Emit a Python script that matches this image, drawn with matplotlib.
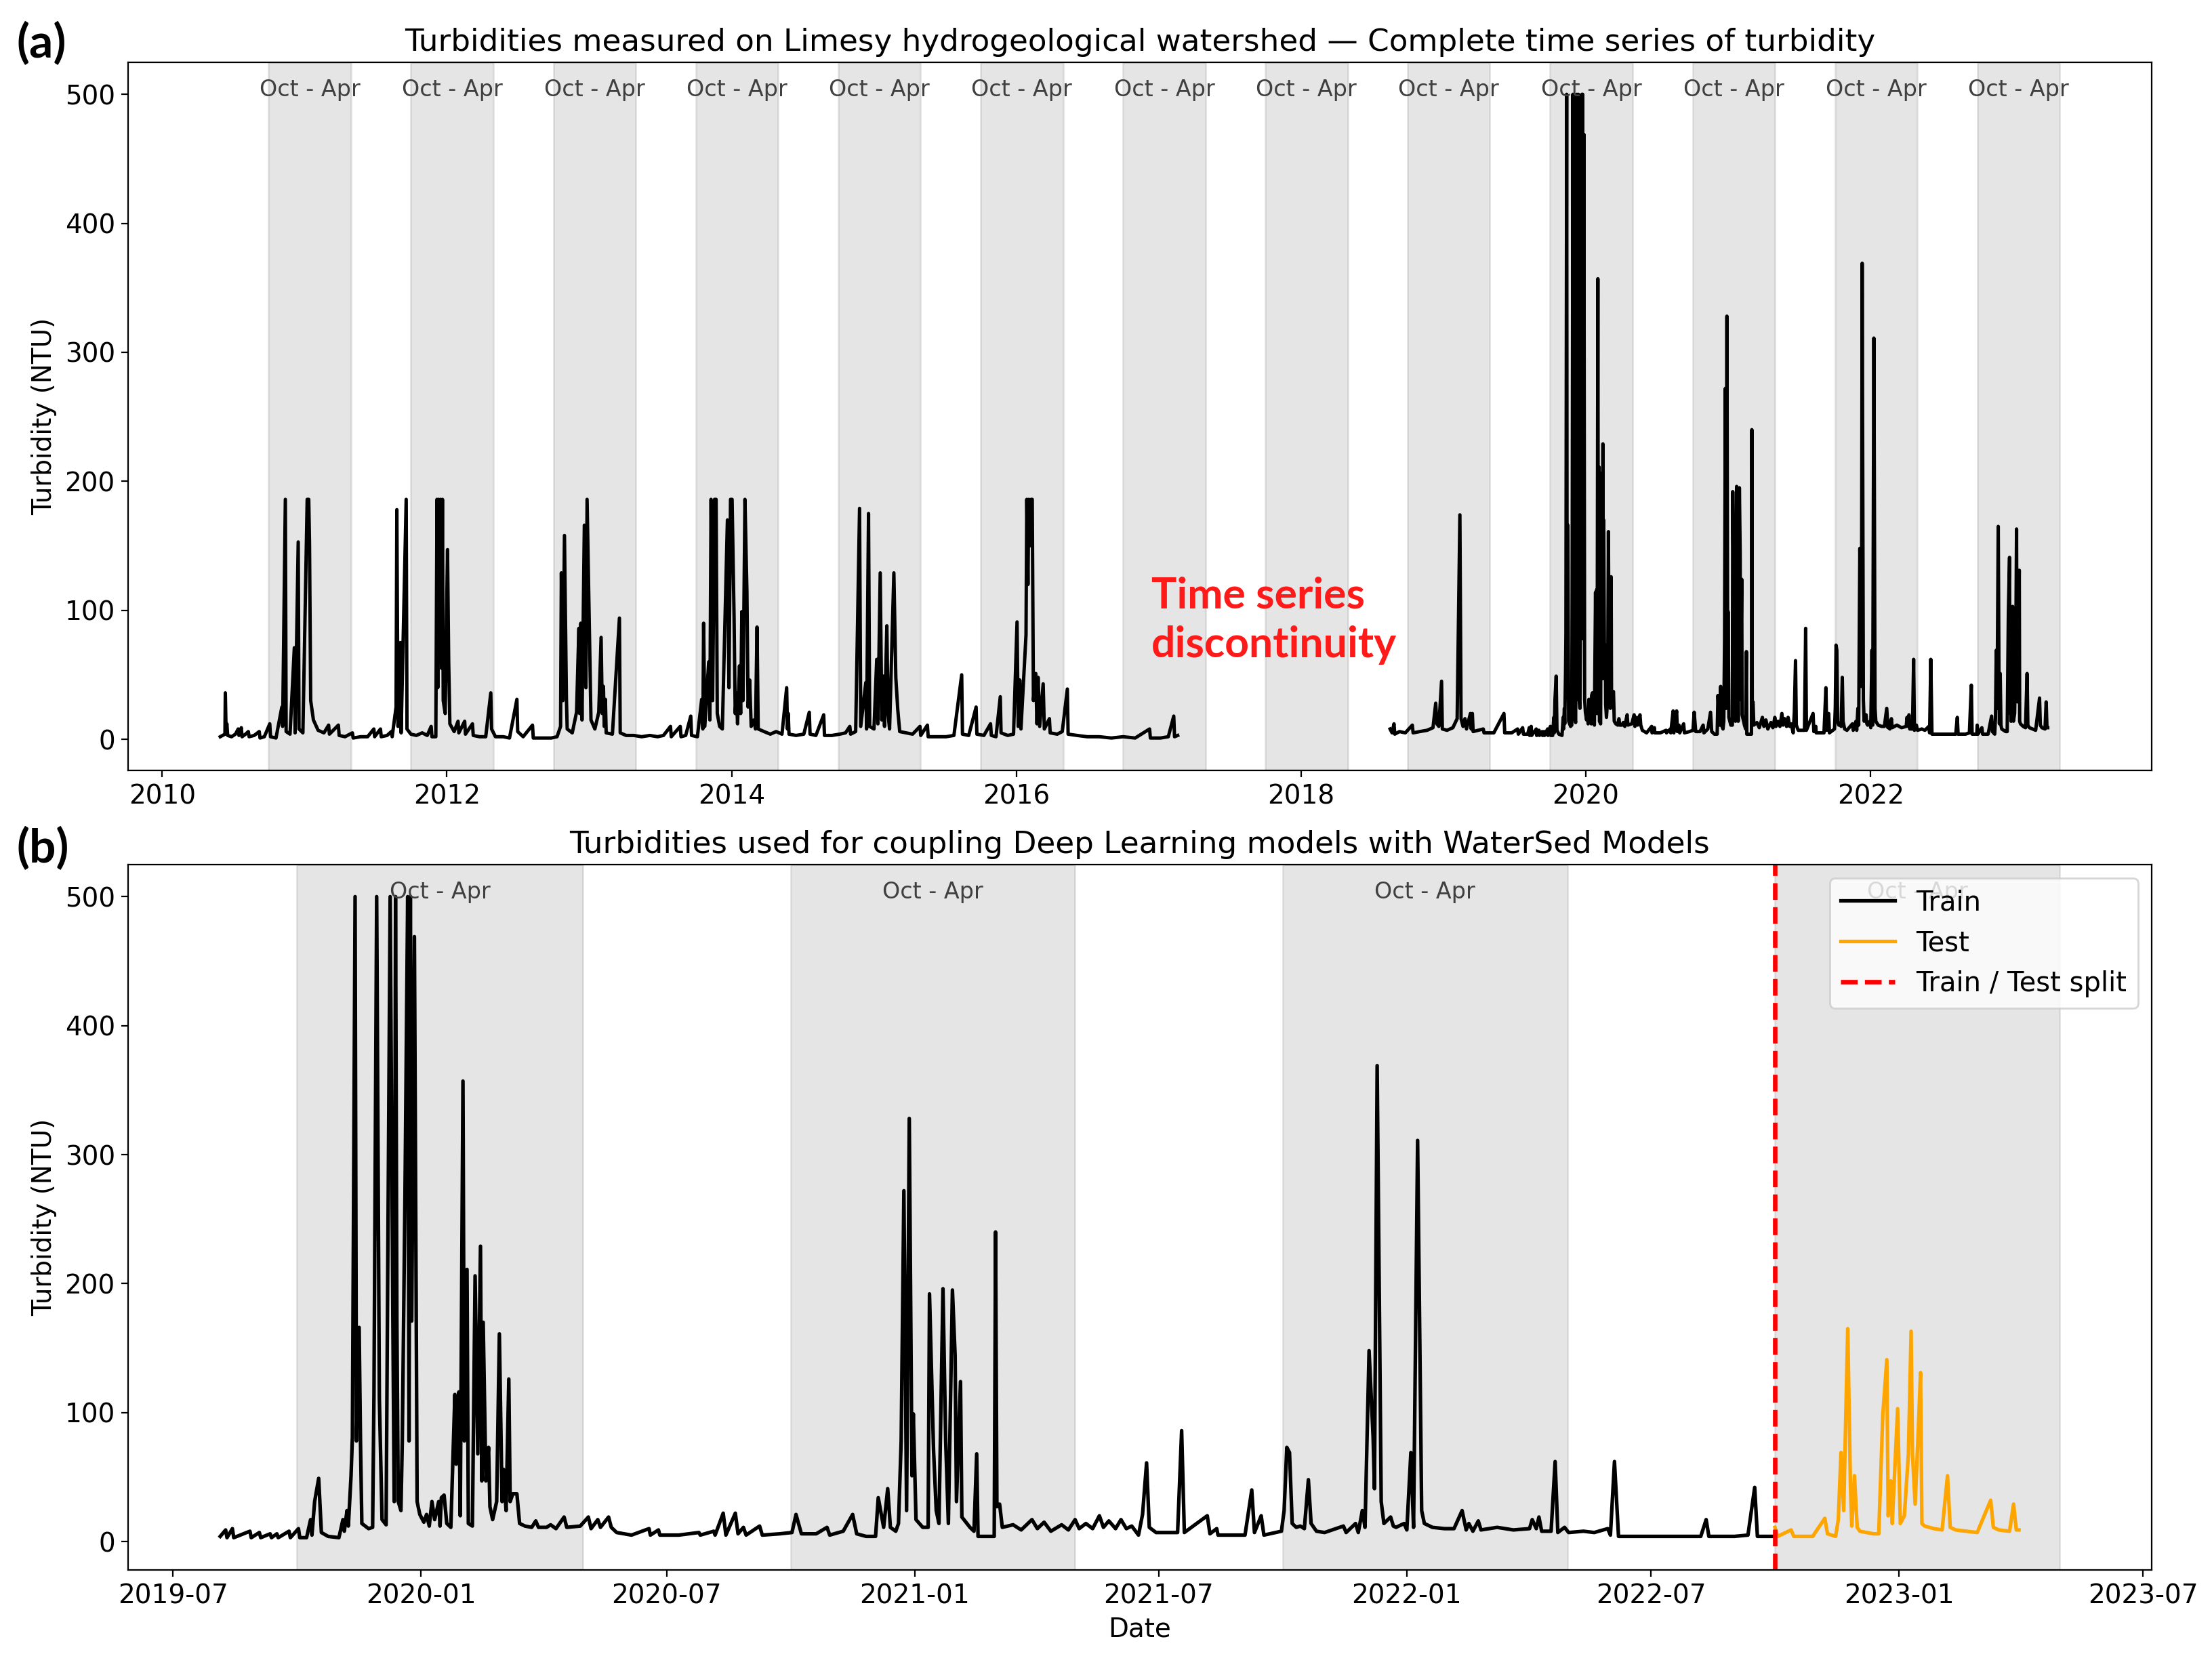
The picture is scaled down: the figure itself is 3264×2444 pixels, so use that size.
import numpy as np
import matplotlib
matplotlib.use("Agg")
import matplotlib.pyplot as plt
import matplotlib.dates as mdates

# ---------------- data ----------------
# Segment 1 of the complete series (2010 - 2017)
seg_a_dates = [
    "2010-05-30", "2010-06-05", "2010-06-11", "2010-06-12", "2010-06-14", "2010-06-16", "2010-06-18", "2010-06-28",
    "2010-07-08", "2010-07-15", "2010-07-17", "2010-07-23", "2010-07-25", "2010-08-03", "2010-08-10", "2010-08-12",
    "2010-08-25", "2010-09-07", "2010-09-09", "2010-09-20", "2010-10-04", "2010-10-06", "2010-10-20", "2010-11-04",
    "2010-11-06", "2010-11-13", "2010-11-15", "2010-11-25", "2010-12-06", "2010-12-08", "2010-12-16", "2010-12-18",
    "2010-12-28", "2011-01-08", "2011-01-12", "2011-01-14", "2011-01-17", "2011-01-24", "2011-02-05", "2011-02-20",
    "2011-03-04", "2011-03-06", "2011-03-29", "2011-03-31", "2011-04-15", "2011-05-04", "2011-05-06", "2011-05-25",
    "2011-06-12", "2011-06-28", "2011-06-30", "2011-07-15", "2011-07-17", "2011-08-01", "2011-08-12", "2011-08-14",
    "2011-08-24", "2011-08-26", "2011-08-29", "2011-09-04", "2011-09-06", "2011-09-19", "2011-09-21", "2011-10-01",
    "2011-10-15", "2011-10-30", "2011-11-12", "2011-11-22", "2011-11-24", "2011-12-04", "2011-12-07", "2011-12-09",
    "2011-12-11", "2011-12-13", "2011-12-16", "2011-12-19", "2011-12-21", "2011-12-23", "2011-12-28", "2012-01-03",
    "2012-01-06", "2012-01-09", "2012-01-20", "2012-01-30", "2012-02-01", "2012-02-16", "2012-02-18", "2012-03-07",
    "2012-03-09", "2012-03-25", "2012-04-10", "2012-04-23", "2012-04-25", "2012-05-05", "2012-05-25", "2012-06-10",
    "2012-06-29", "2012-07-01", "2012-07-15", "2012-08-08", "2012-08-10", "2012-09-01", "2012-09-25", "2012-10-10",
    "2012-10-19", "2012-10-21", "2012-10-25", "2012-10-29", "2012-11-03", "2012-11-05", "2012-11-18", "2012-11-29",
    "2012-12-05", "2012-12-07", "2012-12-10", "2012-12-13", "2012-12-19", "2012-12-23", "2012-12-26", "2013-01-01",
    "2013-01-05", "2013-01-15", "2013-01-25", "2013-01-31", "2013-02-03", "2013-02-06", "2013-02-08", "2013-02-11",
    "2013-02-13", "2013-03-01", "2013-03-19", "2013-03-21", "2013-04-05", "2013-04-25", "2013-05-15", "2013-06-05",
    "2013-06-25", "2013-07-10", "2013-07-28", "2013-07-30", "2013-08-22", "2013-08-24", "2013-09-05", "2013-09-18",
    "2013-09-20", "2013-10-05", "2013-10-16", "2013-10-19", "2013-10-21", "2013-10-24", "2013-11-03", "2013-11-06",
    "2013-11-09", "2013-11-13", "2013-11-18", "2013-11-22", "2013-11-25", "2013-12-01", "2013-12-08", "2013-12-21",
    "2013-12-25", "2013-12-29", "2014-01-02", "2014-01-07", "2014-01-10", "2014-01-13", "2014-01-16", "2014-01-21",
    "2014-01-24", "2014-01-27", "2014-01-30", "2014-02-04", "2014-02-09", "2014-02-12", "2014-02-16", "2014-02-20",
    "2014-02-27", "2014-03-03", "2014-03-07", "2014-03-10", "2014-03-25", "2014-04-10", "2014-04-25", "2014-05-10",
    "2014-05-22", "2014-05-24", "2014-05-26", "2014-05-28", "2014-06-15", "2014-07-05", "2014-07-19", "2014-07-21",
    "2014-08-05", "2014-08-25", "2014-08-27", "2014-09-15", "2014-10-05", "2014-10-20", "2014-10-31", "2014-11-02",
    "2014-11-15", "2014-11-25", "2014-11-28", "2014-12-11", "2014-12-13", "2014-12-18", "2014-12-21", "2015-01-01",
    "2015-01-08", "2015-01-11", "2015-01-17", "2015-01-21", "2015-01-25", "2015-01-28", "2015-02-03", "2015-02-06",
    "2015-02-10", "2015-02-21", "2015-02-26", "2015-03-03", "2015-03-08", "2015-03-25", "2015-04-10", "2015-04-29",
    "2015-05-01", "2015-05-18", "2015-05-20", "2015-06-10", "2015-07-05", "2015-07-25", "2015-08-14", "2015-08-16",
    "2015-09-01", "2015-09-20", "2015-09-22", "2015-10-10", "2015-10-27", "2015-10-29", "2015-11-10", "2015-11-21",
    "2015-11-23", "2015-12-10", "2015-12-25", "2016-01-03", "2016-01-06", "2016-01-10", "2016-01-13", "2016-01-26",
    "2016-01-28", "2016-01-31", "2016-02-02", "2016-02-05", "2016-02-08", "2016-02-11", "2016-02-14", "2016-02-20",
    "2016-02-23", "2016-02-26", "2016-03-01", "2016-03-10", "2016-03-13", "2016-03-26", "2016-03-28", "2016-04-15",
    "2016-04-28", "2016-05-11", "2016-05-13", "2016-06-05", "2016-07-01", "2016-08-01", "2016-09-01", "2016-10-01",
    "2016-11-01", "2016-12-08", "2016-12-10", "2017-01-05", "2017-01-25", "2017-02-08", "2017-02-10", "2017-02-18",
]
seg_a_vals = [
    2, 3, 4, 36, 5, 12, 3, 2,
    4, 8, 3, 9, 2, 4, 6, 2,
    3, 6, 1, 2, 12, 2, 1, 25,
    10, 186, 6, 4, 71, 5, 153, 8,
    5, 186, 186, 151, 30, 15, 7, 5,
    11, 4, 11, 3, 2, 5, 1, 2,
    2, 8, 2, 8, 2, 3, 6, 2,
    25, 178, 10, 75, 5, 186, 8, 4,
    3, 5, 3, 10, 2, 2, 186, 40,
    186, 60, 186, 55, 186, 30, 20, 147,
    60, 12, 6, 14, 5, 14, 4, 12,
    3, 2, 2, 36, 8, 2, 2, 1,
    31, 6, 2, 11, 1, 1, 1, 2,
    10, 129, 30, 158, 32, 8, 5, 21,
    86, 20, 90, 15, 166, 40, 186, 83,
    15, 8, 21, 79, 20, 41, 10, 31,
    5, 4, 94, 5, 3, 3, 2, 3,
    2, 3, 10, 2, 10, 2, 3, 18,
    3, 2, 31, 8, 90, 10, 60, 15,
    186, 30, 186, 186, 20, 10, 8, 170,
    40, 186, 186, 96, 20, 36, 12, 57,
    20, 99, 30, 186, 115, 25, 46, 10,
    15, 8, 87, 8, 6, 4, 6, 4,
    40, 8, 20, 4, 3, 4, 21, 4,
    3, 19, 3, 3, 4, 5, 10, 4,
    6, 179, 10, 44, 8, 175, 10, 8,
    62, 12, 129, 15, 49, 10, 88, 20,
    8, 129, 48, 23, 6, 5, 4, 10,
    3, 11, 2, 2, 2, 3, 50, 4,
    3, 25, 4, 3, 12, 3, 2, 33,
    5, 3, 4, 91, 10, 46, 8, 81,
    186, 120, 186, 150, 186, 186, 30, 51,
    12, 48, 10, 43, 8, 16, 5, 4,
    6, 39, 4, 3, 2, 2, 1, 2,
    1, 8, 1, 1, 2, 18, 2, 3,
]

# Segment 2 of the complete series, before the model period (2018-08 to 2019-08)
seg_b_dates = [
    "2018-08-17", "2018-08-22", "2018-08-27", "2018-08-29", "2018-09-10", "2018-09-25", "2018-10-13", "2018-10-15",
    "2018-11-01", "2018-11-20", "2018-12-05", "2018-12-12", "2018-12-15", "2018-12-20", "2018-12-27", "2018-12-29",
    "2019-01-10", "2019-01-25", "2019-02-05", "2019-02-12", "2019-02-15", "2019-02-20", "2019-02-25", "2019-03-01",
    "2019-03-11", "2019-03-13", "2019-03-16", "2019-03-18", "2019-04-13", "2019-04-15", "2019-05-10", "2019-06-05",
    "2019-06-07", "2019-06-25", "2019-07-10", "2019-07-12", "2019-07-23", "2019-07-25",
]
seg_b_vals = [
    8, 5, 12, 4, 6, 5, 11, 5,
    6, 7, 9, 28, 12, 10, 45, 8,
    7, 9, 16, 174, 16, 10, 16, 8,
    20, 8, 20, 6, 8, 5, 5, 20,
    5, 5, 8, 4, 9, 4,
]

# Model period: training part
train_dates = [
    "2019-08-05", "2019-08-09", "2019-08-10", "2019-08-14", "2019-08-15", "2019-08-27", "2019-08-28", "2019-09-03",
    "2019-09-04", "2019-09-11", "2019-09-12", "2019-09-16", "2019-09-17", "2019-09-25", "2019-09-26", "2019-10-02",
    "2019-10-03", "2019-10-08", "2019-10-11", "2019-10-12", "2019-10-14", "2019-10-17", "2019-10-19", "2019-10-24",
    "2019-11-01", "2019-11-04", "2019-11-05", "2019-11-07", "2019-11-08", "2019-11-10", "2019-11-11", "2019-11-13",
    "2019-11-14", "2019-11-16", "2019-11-17", "2019-11-18", "2019-11-23", "2019-11-26", "2019-11-27", "2019-11-29",
    "2019-12-01", "2019-12-03", "2019-12-06", "2019-12-09", "2019-12-11", "2019-12-12", "2019-12-13", "2019-12-14",
    "2019-12-15", "2019-12-17", "2019-12-18", "2019-12-20", "2019-12-22", "2019-12-23", "2019-12-24", "2019-12-25",
    "2019-12-27", "2019-12-29", "2019-12-31", "2020-01-03", "2020-01-05", "2020-01-07", "2020-01-09", "2020-01-11",
    "2020-01-14", "2020-01-15", "2020-01-16", "2020-01-18", "2020-01-20", "2020-01-23", "2020-01-26", "2020-01-27",
    "2020-01-29", "2020-01-30", "2020-02-01", "2020-02-02", "2020-02-04", "2020-02-05", "2020-02-08", "2020-02-10",
    "2020-02-12", "2020-02-14", "2020-02-15", "2020-02-16", "2020-02-18", "2020-02-20", "2020-02-21", "2020-02-23",
    "2020-02-26", "2020-02-28", "2020-03-01", "2020-03-02", "2020-03-04", "2020-03-06", "2020-03-07", "2020-03-09",
    "2020-03-12", "2020-03-14", "2020-03-18", "2020-03-23", "2020-03-26", "2020-03-28", "2020-04-03", "2020-04-06",
    "2020-04-10", "2020-04-16", "2020-04-18", "2020-04-28", "2020-05-04", "2020-05-06", "2020-05-11", "2020-05-13",
    "2020-05-19", "2020-05-21", "2020-05-25", "2020-06-05", "2020-06-18", "2020-06-19", "2020-06-25", "2020-06-26",
    "2020-07-10", "2020-07-25", "2020-07-26", "2020-08-05", "2020-08-06", "2020-08-12", "2020-08-14", "2020-08-21",
    "2020-08-23", "2020-08-27", "2020-08-29", "2020-09-08", "2020-09-10", "2020-09-23", "2020-10-02", "2020-10-05",
    "2020-10-09", "2020-10-20", "2020-10-28", "2020-10-30", "2020-11-09", "2020-11-16", "2020-11-19", "2020-11-26",
    "2020-12-03", "2020-12-05", "2020-12-09", "2020-12-12", "2020-12-14", "2020-12-18", "2020-12-20", "2020-12-22",
    "2020-12-24", "2020-12-26", "2020-12-28", "2020-12-30", "2020-12-31", "2021-01-02", "2021-01-07", "2021-01-11",
    "2021-01-12", "2021-01-15", "2021-01-17", "2021-01-19", "2021-01-22", "2021-01-24", "2021-01-26", "2021-01-29",
    "2021-01-31", "2021-02-01", "2021-02-04", "2021-02-05", "2021-02-11", "2021-02-14", "2021-02-16", "2021-02-17",
    "2021-03-01", "2021-03-02", "2021-03-03", "2021-03-05", "2021-03-07", "2021-03-15", "2021-03-21", "2021-03-26",
    "2021-03-29", "2021-04-02", "2021-04-07", "2021-04-12", "2021-04-20", "2021-04-25", "2021-04-30", "2021-05-03",
    "2021-05-08", "2021-05-13", "2021-05-18", "2021-05-21", "2021-05-25", "2021-05-30", "2021-06-03", "2021-06-07",
    "2021-06-11", "2021-06-16", "2021-06-19", "2021-06-22", "2021-06-24", "2021-06-29", "2021-07-15", "2021-07-18",
    "2021-07-20", "2021-08-06", "2021-08-08", "2021-08-13", "2021-08-14", "2021-09-03", "2021-09-08", "2021-09-10",
    "2021-09-15", "2021-09-17", "2021-09-30", "2021-10-02", "2021-10-04", "2021-10-06", "2021-10-08", "2021-10-11",
    "2021-10-14", "2021-10-17", "2021-10-20", "2021-10-22", "2021-10-26", "2021-11-01", "2021-11-15", "2021-11-17",
    "2021-11-24", "2021-11-26", "2021-11-29", "2021-12-01", "2021-12-04", "2021-12-07", "2021-12-08", "2021-12-10",
    "2021-12-13", "2021-12-15", "2021-12-20", "2021-12-22", "2021-12-24", "2021-12-30", "2022-01-01", "2022-01-04",
    "2022-01-06", "2022-01-09", "2022-01-12", "2022-01-14", "2022-01-20", "2022-01-29", "2022-02-05", "2022-02-11",
    "2022-02-14", "2022-02-16", "2022-02-19", "2022-02-23", "2022-02-25", "2022-03-09", "2022-03-21", "2022-04-02",
    "2022-04-04", "2022-04-07", "2022-04-09", "2022-04-11", "2022-04-18", "2022-04-21", "2022-04-23", "2022-04-28",
    "2022-05-01", "2022-05-12", "2022-05-20", "2022-05-30", "2022-06-01", "2022-06-04", "2022-06-07", "2022-06-23",
    "2022-07-12", "2022-08-07", "2022-08-11", "2022-08-13", "2022-09-01", "2022-09-11", "2022-09-16", "2022-09-18",
    "2022-09-30",
]
train_vals = [
    4, 9, 3, 10, 3, 8, 3, 7,
    3, 6, 3, 6, 3, 8, 3, 10,
    3, 3, 17, 5, 31, 49, 7, 4,
    3, 17, 8, 24, 12, 51, 81, 500,
    78, 166, 78, 14, 10, 11, 114, 500,
    111, 17, 13, 500, 175, 31, 500, 171,
    31, 24, 78, 268, 500, 78, 500, 171,
    469, 31, 21, 15, 21, 12, 31, 17,
    31, 12, 34, 36, 14, 11, 114, 60,
    116, 20, 357, 78, 211, 14, 12, 206,
    68, 229, 47, 170, 47, 73, 27, 17,
    31, 161, 31, 56, 24, 126, 31, 37,
    37, 14, 12, 11, 16, 11, 11, 13,
    10, 19, 11, 12, 19, 10, 17, 11,
    19, 11, 7, 5, 10, 5, 9, 5,
    5, 7, 5, 8, 5, 22, 5, 22,
    6, 11, 5, 12, 5, 6, 7, 21,
    6, 6, 11, 5, 8, 21, 6, 4,
    4, 34, 11, 41, 11, 8, 14, 78,
    272, 24, 328, 51, 99, 17, 11, 11,
    192, 71, 24, 14, 196, 78, 14, 195,
    144, 31, 124, 19, 11, 8, 68, 4,
    4, 240, 27, 29, 11, 13, 9, 14,
    17, 10, 15, 8, 13, 9, 17, 10,
    14, 10, 20, 11, 16, 10, 17, 10,
    12, 5, 21, 61, 11, 7, 7, 86,
    7, 20, 6, 10, 5, 5, 40, 7,
    20, 5, 8, 24, 73, 69, 14, 11,
    12, 10, 48, 14, 8, 7, 12, 7,
    14, 7, 24, 11, 148, 81, 41, 369,
    31, 14, 19, 12, 11, 14, 9, 69,
    11, 311, 24, 14, 11, 10, 10, 24,
    9, 14, 8, 16, 9, 11, 9, 10,
    17, 10, 19, 8, 8, 62, 7, 11,
    7, 8, 7, 10, 5, 62, 4, 4,
    4, 4, 17, 4, 4, 5, 42, 4,
    4,
]

# Model period: test part
test_dates = [
    "2022-10-01", "2022-10-03", "2022-10-13", "2022-10-15", "2022-10-29", "2022-11-07", "2022-11-09", "2022-11-15",
    "2022-11-17", "2022-11-19", "2022-11-21", "2022-11-24", "2022-11-26", "2022-11-27", "2022-11-29", "2022-12-01",
    "2022-12-03", "2022-12-13", "2022-12-17", "2022-12-20", "2022-12-23", "2022-12-24", "2022-12-26", "2022-12-27",
    "2022-12-31", "2023-01-02", "2023-01-05", "2023-01-08", "2023-01-10", "2023-01-11", "2023-01-13", "2023-01-15",
    "2023-01-17", "2023-01-18", "2023-01-20", "2023-01-27", "2023-02-02", "2023-02-06", "2023-02-08", "2023-02-12",
    "2023-02-28", "2023-03-10", "2023-03-12", "2023-03-16", "2023-03-24", "2023-03-27", "2023-03-29", "2023-03-31",
]
test_vals = [
    11, 4, 9, 4, 4, 18, 6, 4,
    17, 69, 24, 165, 44, 12, 51, 11,
    8, 6, 6, 98, 141, 20, 47, 14,
    103, 14, 20, 68, 163, 68, 29, 78,
    131, 14, 12, 10, 9, 51, 11, 9,
    7, 32, 11, 9, 8, 29, 9, 9,
]

split_date = "2022-10-01"
season_years_top = list(range(2010, 2023))      # Oct (year) - Apr (year + 1)
season_years_bottom = [2019, 2020, 2021, 2022]
season_label = "Oct - Apr"

title_top = "Turbidities measured on Limesy hydrogeological watershed \u2014 Complete time series of turbidity"
title_bottom = "Turbidities used for coupling Deep Learning models with WaterSed Models"

# ---------------- figure ----------------
def as_dates(lst):
    return np.array(lst, dtype="datetime64[D]")

fig = plt.figure(figsize=(16.32, 12.22), dpi=200)
ax1 = fig.add_axes([0.058, 0.5349, 0.9146, 0.4276])
ax2 = fig.add_axes([0.058, 0.0521, 0.9146, 0.4258])

# top panel: complete series (two continuous pieces)
ax1.plot(as_dates(seg_a_dates), seg_a_vals, color="black", lw=1.8)
ax1.plot(np.concatenate([as_dates(seg_b_dates), as_dates(train_dates), as_dates(test_dates)]),
         seg_b_vals + train_vals + test_vals, color="black", lw=1.8)

# bottom panel: train / test
ax2.plot(as_dates(train_dates), train_vals, color="black", lw=1.9, label="Train")
ax2.plot(as_dates(test_dates), test_vals, color="orange", lw=1.9, label="Test")
ax2.axvline(mdates.date2num(np.datetime64(split_date)), color="red", ls="--", lw=2.4,
            label="Train / Test split")


def shade(ax, years):
    for y in years:
        s = np.datetime64(f"{y}-10-01")
        e = np.datetime64(f"{y + 1}-04-30")
        s_n, e_n = mdates.date2num(s), mdates.date2num(e)
        ax.axvspan(s_n, e_n, color="gray", alpha=0.2, lw=1.0)
        ax.text((s_n + e_n) / 2, 512, season_label, ha="center", va="top",
                fontsize=12, color="0.25")


shade(ax1, season_years_top)
shade(ax2, season_years_bottom)

for ax in (ax1, ax2):
    ax.set_ylabel("Turbidity (NTU)", fontsize=14)
    ax.tick_params(labelsize=14)
    ax.set_yticks([0, 100, 200, 300, 400, 500])

ax1.xaxis.set_major_locator(mdates.YearLocator(2))
ax1.xaxis.set_major_formatter(mdates.DateFormatter("%Y"))
ax2.xaxis.set_major_locator(mdates.MonthLocator(bymonth=[1, 7]))
ax2.xaxis.set_major_formatter(mdates.DateFormatter("%Y-%m"))

ax1.set_title(title_top, fontsize=16.3)
ax2.set_title(title_bottom, fontsize=16.3)
ax2.set_xlabel("Date", fontsize=14)

ax2.legend(loc="upper right", fontsize=14.4)

# annotation of the gap
ax1.text(mdates.date2num(np.datetime64("2016-12-12")), 92, "Time series\ndiscontinuity",
         color="#ff1a1a", fontsize=22.5, fontweight="bold", family="Lato",
         ha="left", va="center", linespacing=1.3)

# panel letters
fig.text(0.0075, 0.987, "(a)", fontsize=25, fontweight="bold", family="Lato", va="top", ha="left")
fig.text(0.0075, 0.501, "(b)", fontsize=25, fontweight="bold", family="Lato", va="top", ha="left")

fig.savefig("out.png", dpi=200)
